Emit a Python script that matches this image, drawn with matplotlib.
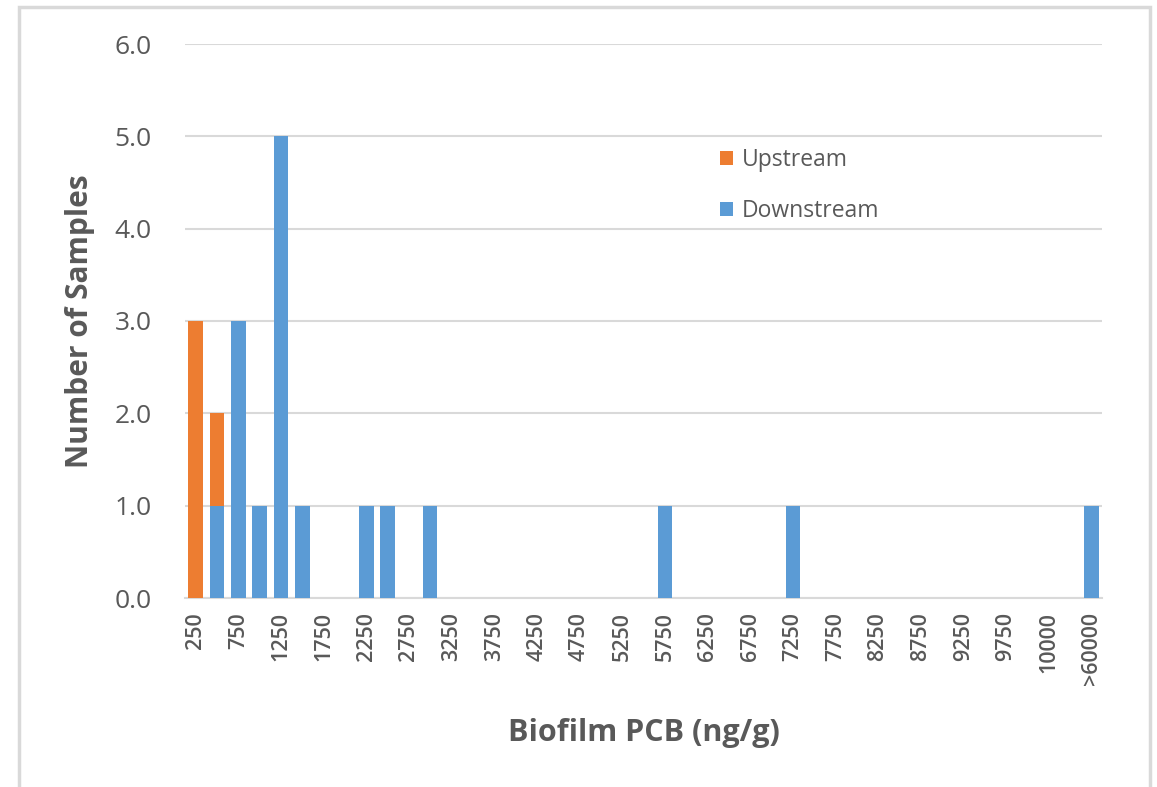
import numpy as np
import matplotlib.pyplot as plt
from matplotlib.patches import Rectangle

# bin labels (43 bins, every other one labelled on the axis)
bins = [str(v) for v in range(250, 10000, 250)] + ['', '10000', '', '>60000']

upstream = {'250': 3, '500': 1}
downstream = {'500': 1, '750': 3, '1000': 1, '1250': 5, '1500': 1,
              '2250': 1, '2500': 1, '3000': 1, '5750': 1, '7250': 1,
              '>60000': 1}

up_vals = np.array([upstream.get(b, 0) for b in bins])
down_vals = np.array([downstream.get(b, 0) for b in bins])

orange = '#ED7D31'
blue = '#5B9BD5'
grey = '#595959'

plt.rcParams['font.family'] = ['Open Sans', 'DejaVu Sans']

fig = plt.figure(figsize=(11.57, 7.87), dpi=100)
fig.patches.append(Rectangle((19 / 1157, -0.1), (1150 - 19) / 1157, 1.1 - 7 / 787,
                             transform=fig.transFigure, fill=False,
                             edgecolor='#D9D9D9', linewidth=2.5))
ax = fig.add_axes([185 / 1157, 1 - 598 / 787, (1102 - 185) / 1157, (598 - 44) / 787])

x = np.arange(len(bins))
ax.bar(x, down_vals, width=0.68, color=blue, label='Downstream', zorder=3)
ax.bar(x, up_vals, width=0.68, bottom=down_vals, color=orange, label='Upstream', zorder=3)

ax.set_xlim(-0.5, len(bins) - 0.5)
ax.set_ylim(0, 6)
ax.set_yticks(np.arange(0, 7, 1.0))
ax.set_yticklabels(['{:.1f}'.format(v) for v in np.arange(0, 7, 1.0)],
                   fontsize=19, color=grey)
ax.set_xticks(x[::2])
ax.set_xticklabels(bins[::2], rotation=90, fontsize=15.5, color=grey, fontweight='semibold')
ax.tick_params(axis='y', length=0, pad=24)
ax.tick_params(axis='x', length=0, pad=10)

ax.grid(axis='y', color='#D9D9D9', linewidth=1.5, zorder=0)
for s in ['top', 'right', 'left']:
    ax.spines[s].set_visible(False)
ax.spines['bottom'].set_color('#D9D9D9')
ax.spines['bottom'].set_linewidth(1.5)

ax.set_ylabel('Number of Samples', fontsize=21.5, fontweight='bold', color=grey, labelpad=14)
ax.set_xlabel('Biofilm PCB (ng/g)', fontsize=22, fontweight='bold', color=grey, labelpad=24)

h, l = ax.get_legend_handles_labels()
ax.legend(h[::-1], l[::-1], loc='upper left', bbox_to_anchor=(0.571, 0.833),
          borderpad=0, frameon=False, fontsize=16.5, labelcolor=grey, handlelength=0.55,
          handleheight=0.55, handletextpad=0.4, labelspacing=1.2)

fig.savefig('out.png', dpi=100, facecolor='white')
